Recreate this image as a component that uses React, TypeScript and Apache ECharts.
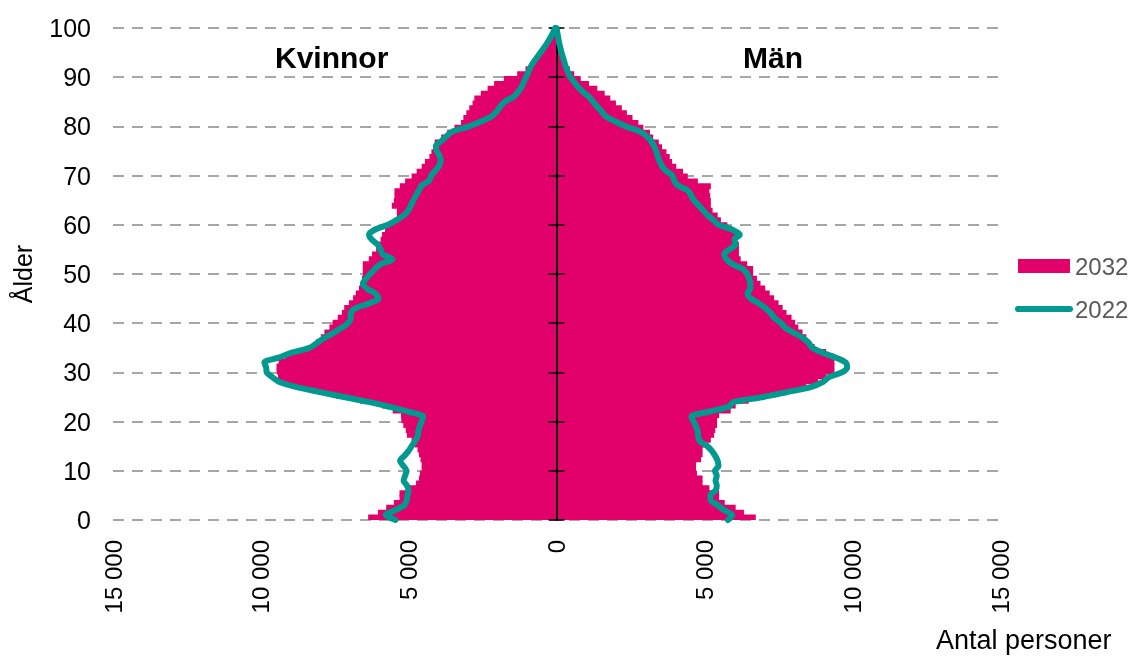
import React, { useEffect, useRef } from 'react';
import * as echarts from 'echarts';

// Age categories 0..100
const ages: string[] = Array.from({ length: 101 }, (_, i) => String(i));

// 2032 (bars) – women, persons per age 0..100
const women2032 = [
  6370, 6040, 5760, 5500, 5310, 5310, 5000, 4750, 4650, 4620,
  4560, 4560, 4600, 4650, 4700, 4790, 4900, 5060, 5100, 5180,
  5250, 5260, 5540, 5900, 6630, 7460, 8130, 8900, 9350, 9420,
  9470, 9470, 9400, 9180, 8810, 8300, 8140, 7970, 7850, 7680,
  7570, 7400, 7260, 7180, 7020, 6880, 6790, 6680, 6620, 6580,
  6550, 6550, 6550, 6350, 6240, 6100, 6010, 5950, 5900, 5800,
  5680, 5460, 5400, 5400, 5570, 5500, 5480, 5480, 5300, 5120,
  4900, 4730, 4560, 4450, 4300, 4230, 4150, 4120, 3900, 3700,
  3450, 3230, 3150, 3050, 2950, 2840, 2780, 2560, 2330, 2110,
  1780, 1330, 1050, 850, 700, 550, 420, 300, 200, 130,
  120,
];

// 2032 (bars) – men
const men2032 = [
  6740, 6340, 6060, 5690, 5500, 5500, 5170, 4940, 4940, 4750,
  4720, 4720, 4890, 4940, 4940, 5000, 5220, 5330, 5370, 5430,
  5430, 5500, 5890, 6060, 6500, 7060, 7780, 8450, 8850, 9120,
  9400, 9400, 9400, 9400, 9120, 8730, 8560, 8450, 8320, 8180,
  8070, 7950, 7780, 7650, 7510, 7360, 7210, 7060, 6900, 6780,
  6650, 6650, 6450, 6230, 6170, 6170, 6170, 6100, 6060, 6000,
  5780, 5560, 5450, 5280, 5220, 5220, 5200, 5170, 5220, 4780,
  4440, 4280, 4050, 3910, 3830, 3720, 3570, 3460, 3270, 3160,
  2940, 2770, 2570, 2380, 2210, 2010, 1820, 1630, 1380, 1100,
  820, 600, 450, 350, 260, 190, 130, 90, 60, 40,
  30,
];

// 2022 (line) – women
const women2022 = [
  5450, 5780, 5450, 5150, 5070, 5040, 5010, 5060, 5170, 5120,
  5070, 5180, 5290, 5150, 5010, 4900, 4790, 4700, 4670, 4630,
  4560, 4510, 5000, 5650, 6350, 7200, 8000, 8780, 9350, 9600,
  9800, 9820, 9880, 9400, 8950, 8350, 8100, 7850, 7550, 7280,
  7050, 6960, 6960, 6800, 6350, 6020, 6120, 6400, 6550, 6450,
  6300, 6150, 5950, 5550, 5880, 5950, 6050, 6250, 6340, 6150,
  5700, 5400, 5150, 5000, 4920, 4840, 4750, 4650, 4560, 4300,
  4240, 4100, 3970, 3920, 3950, 4050, 4080, 3900, 3720, 3500,
  2950, 2550, 2200, 2030, 1900, 1760, 1450, 1300, 1180, 1110,
  1030, 950, 880, 780, 660, 540, 420, 310, 210, 120,
  50,
];

// 2022 (line) – men
const men2022 = [
  5800, 5950, 5670, 5450, 5220, 5200, 5380, 5420, 5380, 5420,
  5360, 5480, 5450, 5370, 5260, 5100, 4850, 4790, 4780, 4720,
  4640, 4560, 5150, 5800, 6000, 7000, 7800, 8600, 9000, 9200,
  9650, 9830, 9780, 9450, 9000, 8650, 8530, 8330, 8050, 7750,
  7600, 7380, 7250, 7080, 6850, 6580, 6460, 6550, 6560, 6520,
  6450, 6300, 5950, 5750, 5670, 5850, 6050, 6020, 6200, 5950,
  5480, 5300, 5100, 4950, 4800, 4650, 4550, 4440, 4100, 3980,
  3920, 3700, 3560, 3480, 3420, 3370, 3300, 3200, 3050, 2800,
  2350, 1990, 1680, 1530, 1380, 1240, 1100, 900, 730, 600,
  470, 390, 320, 270, 220, 170, 130, 90, 60, 30,
  0,
];

const MAGENTA = '#E2006B';
const TEAL = '#00998F';
const FONT = '"Liberation Sans", Arial, Helvetica, sans-serif';

function fmt(v: number): string {
  const a = Math.abs(v);
  if (a < 1000) return String(a);
  const th = Math.floor(a / 1000);
  const rest = String(a % 1000).padStart(3, '0');
  return th + ' ' + rest;
}

export default function App() {
  const ref = useRef<HTMLDivElement>(null);
  useEffect(() => {
    if (!ref.current) return;
    const chart = echarts.init(ref.current, null, { renderer: 'svg' });
    const tickAxis = (inside: boolean) => ({
      type: 'value',
      min: 0,
      max: 100,
      interval: 10,
      position: 'left',
      z: 4,
      axisLine: {
        show: true,
        onZero: true,
        onZeroAxisIndex: 0,
        lineStyle: { color: '#000', width: 1.5 },
      },
      axisTick: { show: true, inside, length: 8, lineStyle: { color: '#000', width: 1.5 } },
      axisLabel: { show: false },
      splitLine: { show: false },
    });
    const barStyle = { color: MAGENTA, borderWidth: 0 };
    const lineStyle = { color: TEAL, width: 6, cap: 'round', join: 'round' };
    chart.setOption({
      animation: false,
      textStyle: { fontFamily: FONT },
      grid: { left: 113, right: 130, top: 28, bottom: 137, containLabel: false, outerBoundsMode: 'none' },
      legend: {
        orient: 'vertical',
        left: 1010,
        top: 249,
        itemWidth: 52,
        itemHeight: 14,
        itemGap: 19,
        selectedMode: false,
        textStyle: { fontSize: 24, color: '#595959', fontFamily: FONT },
        data: [
          { name: '2032', icon: 'rect' },
          {
            name: '2022',
            itemStyle: { color: 'rgba(0,0,0,0)', opacity: 0, borderWidth: 0 },
            lineStyle: { color: TEAL, width: 6, cap: 'round', opacity: 1 },
          },
        ],
      },
      xAxis: {
        type: 'value',
        min: -15000,
        max: 15000,
        interval: 5000,
        axisLine: { show: false },
        axisTick: { show: false },
        splitLine: { show: false },
        axisLabel: { rotate: 90, margin: 20, fontSize: 24, color: '#000', formatter: fmt, fontFamily: FONT },
      },
      yAxis: [
        {
          type: 'value',
          min: 0,
          max: 100,
          interval: 10,
          position: 'left',
          axisLine: { show: false, onZero: false },
          axisTick: { show: false },
          axisLabel: { fontSize: 25, color: '#000', margin: 22, fontFamily: FONT },
          splitLine: { show: true, lineStyle: { color: '#a6a6a6', width: 2, type: [11, 8] } },
          name: 'Ålder',
          nameLocation: 'middle',
          nameRotate: 90,
          nameGap: 78,
          nameTextStyle: { fontSize: 25, color: '#000', fontFamily: FONT },
        },
        tickAxis(false),
        tickAxis(true),
        { type: 'category', data: ages, show: false, boundaryGap: true },
      ],
      series: [
        {
          name: '2032',
          type: 'bar',
          yAxisIndex: 3,
          stack: 'pyr',
          barWidth: '125%',
          data: women2032.map((v) => -v),
          itemStyle: barStyle,
          z: 2,
        },
        {
          name: '2032',
          type: 'bar',
          yAxisIndex: 3,
          stack: 'pyr',
          barWidth: '125%',
          data: men2032,
          itemStyle: barStyle,
          z: 2,
        },
        {
          name: '2022',
          type: 'line',
          yAxisIndex: 0,
          data: women2022.map((v, i) => [-v, Number(ages[i])]),
          symbol: 'none',
          smooth: 0.3,
          clip: false,
          lineStyle,
          itemStyle: { color: TEAL },
          z: 5,
        },
        {
          name: '2022',
          type: 'line',
          yAxisIndex: 0,
          data: men2022.map((v, i) => [v, Number(ages[i])]),
          symbol: 'none',
          smooth: 0.3,
          clip: false,
          lineStyle,
          itemStyle: { color: TEAL },
          z: 5,
        },
      ],
      graphic: [
        { type: 'text', left: 275, top: 42, style: { text: 'Kvinnor', font: 'bold 30px ' + FONT, fill: '#000' } },
        { type: 'text', left: 743, top: 42, style: { text: 'Män', font: 'bold 30px ' + FONT, fill: '#000' } },
        { type: 'text', left: 936, top: 626, style: { text: 'Antal personer', font: '27px ' + FONT, fill: '#000' } },
      ],
    });
    return () => chart.dispose();
  }, []);
  return <div ref={ref} style={{ position: 'fixed', left: 0, top: 0, width: 1130, height: 657 }} />;
}
